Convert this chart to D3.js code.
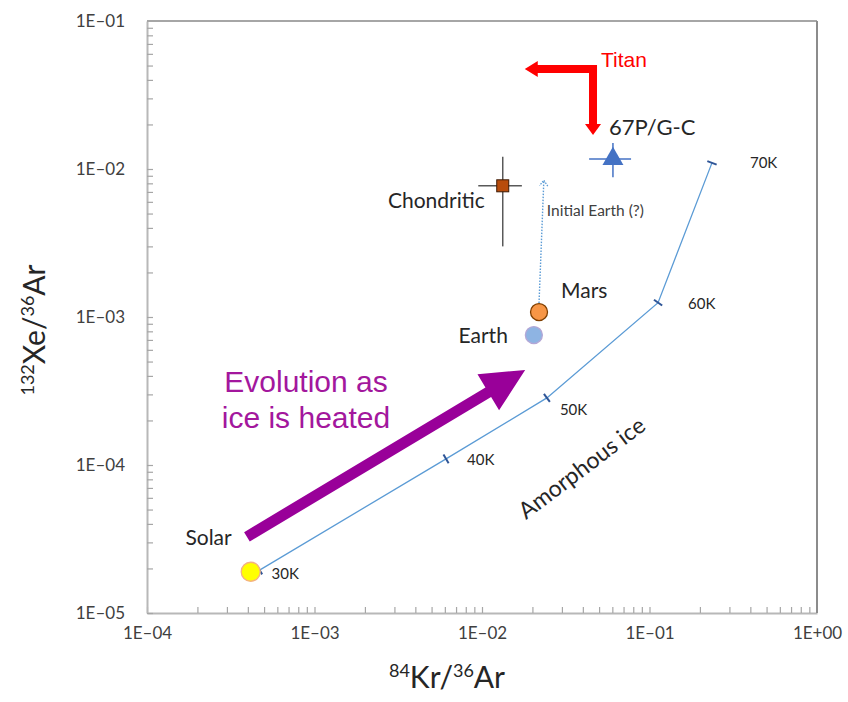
<!DOCTYPE html>
<html>
<head>
<meta charset="utf-8">
<script src="https://cdn.jsdelivr.net/npm/d3@7"></script>
<style>
  body { margin: 0; background: #fff; }
  text { font-family: Lato, "Liberation Sans", sans-serif; }
</style>
</head>
<body>
<div id="chart"></div>
<script>
// Data

// x = 84Kr/36Ar, y = 132Xe/36Ar
const bodyNames = ["Solar", "Earth", "Mars"];
const bodyKr = [4.16e-4, 0.0204, 0.0219];
const bodyXe = [1.90e-5, 7.55e-4, 1.08e-3];

const chondKr = 0.0133, chondXe = 7.7e-3;
const chondKrRange = [0.0095, 0.0173];
const chondXeRange = [3.0e-3, 0.0121];

const cometKr = 0.0605, cometXe = 0.0117;
const cometKrRange = [0.0436, 0.0776];
const cometXeRange = [0.0088, 0.0150];

// amorphous ice trapping curve
const iceTemps = ["30K", "40K", "50K", "60K", "70K"];
const iceKr = [4.7e-4, 6.1e-3, 0.0244, 0.1125, 0.236];
const iceXe = [1.95e-5, 1.10e-4, 2.84e-4, 1.25e-3, 0.011];

// arrows
const initialEarthEnd = [0.0234, 8.4e-3];
const titanCorner = [0.046, 0.0474];
const titanLeftTip = 0.018;
const titanDownTip = 0.017;
const heatTail = [3.95e-4, 3.27e-5];
const heatTip = [0.0181, 4.38e-4];

// axes
const xTicks = [1e-4, 1e-3, 1e-2, 1e-1, 1];
const xTickLabels = ["1E\u201304", "1E\u201303", "1E\u201302", "1E\u201301", "1E+00"];
const yTicks = [1e-5, 1e-4, 1e-3, 1e-2, 1e-1];
const yTickLabels = ["1E\u201305", "1E\u201304", "1E\u201303", "1E\u201302", "1E\u201301"];

// ------------------------------------------------
const W = 848, H = 702;
const plotL = 147, plotR = 817, plotT = 21, plotB = 613;

const svg = d3.select("#chart").append("svg")
    .attr("width", W)
    .attr("height", H);

const x = d3.scaleLog().domain([1e-4, 1]).range([plotL, plotR]);
const y = d3.scaleLog().domain([1e-5, 1e-1]).range([plotB, plotT]);

// minor ticks, 1..9 in each decade
const minorX = [], minorY = [];
for (let e = -4; e < 0; e++) for (let m = 1; m < 10; m++) minorX.push(m * Math.pow(10, e));
for (let e = -5; e < -1; e++) for (let m = 1; m < 10; m++) minorY.push(m * Math.pow(10, e));

const axisColor = "#a6a6a6";

svg.append("g")
    .attr("transform", "translate(0," + plotB + ")")
    .call(d3.axisBottom(x).tickValues(minorX).tickSizeInner(-6).tickSizeOuter(0).tickFormat(""))
    .call(g => g.selectAll("line").attr("stroke", axisColor).attr("stroke-width", 1.2))
    .call(g => g.select(".domain").attr("stroke", "#b8b8b8").attr("stroke-width", 2));

svg.append("g")
    .attr("transform", "translate(" + plotL + ",0)")
    .call(d3.axisLeft(y).tickValues(minorY).tickSizeInner(-6).tickSizeOuter(0).tickFormat(""))
    .call(g => g.selectAll("line").attr("stroke", axisColor).attr("stroke-width", 1.2))
    .call(g => g.select(".domain").attr("stroke", "#b8b8b8").attr("stroke-width", 2));

// top + right frame
svg.append("line")
    .attr("x1", plotL).attr("y1", plotT).attr("x2", plotR).attr("y2", plotT)
    .attr("stroke", "#a6a6a6").attr("stroke-width", 2);
svg.append("line")
    .attr("x1", plotR).attr("y1", plotT).attr("x2", plotR).attr("y2", plotB)
    .attr("stroke", "#8c8c8c").attr("stroke-width", 2);

// tick labels
svg.append("g")
    .attr("transform", "translate(0," + plotB + ")")
    .call(d3.axisBottom(x).tickValues(xTicks).tickSize(0).tickPadding(14)
        .tickFormat((d, i) => xTickLabels[i]))
    .call(g => g.select(".domain").remove())
    .call(g => g.selectAll("text").attr("fill", "#404040")
        .style("font-size", "17px").style("font-family", "Lato, sans-serif"));

svg.append("g")
    .attr("transform", "translate(" + plotL + ",0)")
    .call(d3.axisLeft(y).tickValues(yTicks).tickSize(0).tickPadding(22)
        .tickFormat((d, i) => yTickLabels[i]))
    .call(g => g.select(".domain").remove())
    .call(g => g.selectAll("text").attr("fill", "#404040")
        .style("font-size", "17px").style("font-family", "Lato, sans-serif"));

// axis titles with superscripts
function isotopeTitle(sel, parts) {
    parts.forEach(p => {
        sel.append("tspan")
            .attr("baseline-shift", p.sup ? "super" : null)
            .style("font-size", p.sup ? "18px" : "30px")
            .text(p.t);
    });
}

const xTitle = svg.append("text")
    .attr("x", (plotL + plotR) / 2 - 35)
    .attr("y", 688)
    .attr("text-anchor", "middle")
    .attr("fill", "#262626");
isotopeTitle(xTitle, [{ t: "84", sup: true }, { t: "Kr/" }, { t: "36", sup: true }, { t: "Ar" }]);

const yTitle = svg.append("text")
    .attr("transform", "translate(45," + 330 + ") rotate(-90)")
    .attr("text-anchor", "middle")
    .attr("fill", "#262626");
isotopeTitle(yTitle, [{ t: "132", sup: true }, { t: "Xe/" }, { t: "36", sup: true }, { t: "Ar" }]);

// ------------------------------------------------
// block arrow helper (pixel space)
function blockArrow(x1, y1, x2, y2, shaftHalf, headLen, headHalf) {
    const dx = x2 - x1, dy = y2 - y1;
    const L = Math.hypot(dx, dy);
    const ux = dx / L, uy = dy / L;
    const nx = -uy, ny = ux;
    const bx = x2 - ux * headLen, by = y2 - uy * headLen;
    const pts = [
        [x1 + nx * shaftHalf, y1 + ny * shaftHalf],
        [bx + nx * shaftHalf, by + ny * shaftHalf],
        [bx + nx * headHalf, by + ny * headHalf],
        [x2, y2],
        [bx - nx * headHalf, by - ny * headHalf],
        [bx - nx * shaftHalf, by - ny * shaftHalf],
        [x1 - nx * shaftHalf, y1 - ny * shaftHalf]
    ];
    return "M" + pts.map(p => p.join(",")).join("L") + "Z";
}

// --- amorphous ice curve ---
const icePts = iceKr.map((k, i) => [x(k), y(iceXe[i])]);

svg.append("path")
    .attr("d", d3.line()(icePts))
    .attr("fill", "none")
    .attr("stroke", "#5b9bd5")
    .attr("stroke-width", 1.3);

// small dashes across the curve at each temperature
icePts.forEach((p, i) => {
    const a = icePts[Math.max(0, i - 1)], b = icePts[Math.min(icePts.length - 1, i + 1)];
    const L = Math.hypot(b[0] - a[0], b[1] - a[1]);
    const nx = -(b[1] - a[1]) / L, ny = (b[0] - a[0]) / L;
    svg.append("line")
        .attr("x1", p[0] - nx * 5).attr("y1", p[1] - ny * 5)
        .attr("x2", p[0] + nx * 5).attr("y2", p[1] + ny * 5)
        .attr("stroke", "#2f5597")
        .attr("stroke-width", 2);
});

const tempOffsets = [[12, 9], [21, 6], [13, 17], [30, 6], [38, 5]];
svg.selectAll(".temp")
    .data(iceTemps)
    .enter()
    .append("text")
    .attr("class", "temp")
    .attr("x", (d, i) => icePts[i][0] + tempOffsets[i][0])
    .attr("y", (d, i) => icePts[i][1] + tempOffsets[i][1])
    .attr("fill", "#262626")
    .style("font-size", "15px")
    .text(d => d);

svg.append("text")
    .attr("transform", "translate(526,520) rotate(-37)")
    .attr("fill", "#262626")
    .style("font-size", "23px")
    .text("Amorphous ice");

// --- purple "heating" arrow ---
svg.append("path")
    .attr("d", blockArrow(x(heatTail[0]), y(heatTail[1]), x(heatTip[0]), y(heatTip[1]), 5.5, 43, 21))
    .attr("fill", "#990099");

svg.append("text")
    .attr("x", 306).attr("y", 392)
    .attr("text-anchor", "middle")
    .attr("fill", "#a3179d")
    .style("font-family", "'Liberation Sans', Arial, sans-serif")
    .style("font-size", "30px")
    .text("Evolution as");
svg.append("text")
    .attr("x", 306).attr("y", 428)
    .attr("text-anchor", "middle")
    .attr("fill", "#a3179d")
    .style("font-family", "'Liberation Sans', Arial, sans-serif")
    .style("font-size", "30px")
    .text("ice is heated");

// --- initial Earth dotted arrow ---
const mx = x(bodyKr[2]), my = y(bodyXe[2]);
const ex = x(initialEarthEnd[0]), ey = y(initialEarthEnd[1]);
svg.append("line")
    .attr("x1", mx).attr("y1", my - 9)
    .attr("x2", ex).attr("y2", ey)
    .attr("stroke", "#5b9bd5")
    .attr("stroke-width", 1.4)
    .attr("stroke-dasharray", "1.5 1.5");
{
    const ang = Math.atan2(ey - my, ex - mx);
    const hl = 7, spread = Math.PI / 5;
    svg.append("path")
        .attr("d", "M" + (ex - hl * Math.cos(ang - spread)) + "," + (ey - hl * Math.sin(ang - spread)) +
            "L" + ex + "," + ey +
            "L" + (ex - hl * Math.cos(ang + spread)) + "," + (ey - hl * Math.sin(ang + spread)))
        .attr("fill", "none")
        .attr("stroke", "#5b9bd5")
        .attr("stroke-width", 1.3)
        .attr("stroke-dasharray", "1.5 1.2");
}
svg.append("text")
    .attr("x", ex + 3).attr("y", ey + 36)
    .attr("fill", "#404040")
    .style("font-size", "15.5px")
    .text("Initial Earth (?)");

// --- Titan L-shaped arrow ---
const tcx = x(titanCorner[0]), tcy = y(titanCorner[1]);
const tlx = x(titanLeftTip), tdy = y(titanDownTip);
svg.append("path")
    .attr("d", blockArrow(tcx + 4, tcy, tlx, tcy, 4, 13, 8))
    .attr("fill", "#ff0000");
svg.append("path")
    .attr("d", blockArrow(tcx, tcy - 4, tcx, tdy, 4, 11, 8))
    .attr("fill", "#ff0000");
svg.append("text")
    .attr("x", tcx + 8).attr("y", tcy - 2)
    .attr("fill", "#ff0000")
    .style("font-family", "'Liberation Sans', Arial, sans-serif")
    .style("font-size", "21px")
    .text("Titan");

// --- Chondritic with error bars ---
svg.append("line")
    .attr("x1", x(chondKr)).attr("x2", x(chondKr))
    .attr("y1", y(chondXeRange[0])).attr("y2", y(chondXeRange[1]))
    .attr("stroke", "#595959").attr("stroke-width", 1.5);
svg.append("line")
    .attr("x1", x(chondKrRange[0])).attr("x2", x(chondKrRange[1]))
    .attr("y1", y(chondXe)).attr("y2", y(chondXe))
    .attr("stroke", "#595959").attr("stroke-width", 1.5);
svg.append("rect")
    .attr("x", x(chondKr) - 6).attr("y", y(chondXe) - 6)
    .attr("width", 12).attr("height", 12)
    .attr("fill", "#b84c0c")
    .attr("stroke", "#3d1a05")
    .attr("stroke-width", 1);
svg.append("text")
    .attr("x", x(chondKr) - 18).attr("y", y(chondXe) + 22)
    .attr("text-anchor", "end")
    .attr("fill", "#262626")
    .style("font-size", "21px")
    .text("Chondritic");

// --- 67P/G-C comet with error bars ---
svg.append("line")
    .attr("x1", x(cometKr)).attr("x2", x(cometKr))
    .attr("y1", y(cometXeRange[0])).attr("y2", y(cometXeRange[1]))
    .attr("stroke", "#4472c4").attr("stroke-width", 1.5);
svg.append("line")
    .attr("x1", x(cometKrRange[0])).attr("x2", x(cometKrRange[1]))
    .attr("y1", y(cometXe)).attr("y2", y(cometXe))
    .attr("stroke", "#4472c4").attr("stroke-width", 1.5);
svg.append("path")
    .attr("transform", "translate(" + x(cometKr) + "," + y(cometXe) + ")")
    .attr("d", d3.symbol().type(d3.symbolTriangle).size(190)())
    .attr("fill", "#4472c4");
svg.append("text")
    .attr("x", x(cometKr) - 4).attr("y", y(cometXe) - 24)
    .attr("fill", "#262626")
    .style("font-size", "22px")
    .text("67P/G-C");

// --- Solar, Earth, Mars circles ---
const bodyFill = ["#ffff00", "#8eb4e3", "#f79646"];
const bodyStroke = ["#f4b183", "#b4a7d6", "#7f3f00"];
const bodyLabelPos = [[-19, -27, "end"], [-26, 8, "end"], [22, -14, "start"]];

svg.selectAll(".body")
    .data(bodyNames)
    .enter()
    .append("circle")
    .attr("class", "body")
    .attr("cx", (d, i) => x(bodyKr[i]))
    .attr("cy", (d, i) => y(bodyXe[i]))
    .attr("r", (d, i) => i === 0 ? 9.5 : 8.5)
    .attr("fill", (d, i) => bodyFill[i])
    .attr("stroke", (d, i) => bodyStroke[i])
    .attr("stroke-width", 1.3);

svg.selectAll(".bodyLabel")
    .data(bodyNames)
    .enter()
    .append("text")
    .attr("class", "bodyLabel")
    .attr("x", (d, i) => x(bodyKr[i]) + bodyLabelPos[i][0])
    .attr("y", (d, i) => y(bodyXe[i]) + bodyLabelPos[i][1])
    .attr("text-anchor", (d, i) => bodyLabelPos[i][2])
    .attr("fill", "#262626")
    .style("font-size", "21px")
    .text(d => d);
</script>
</body>
</html>
